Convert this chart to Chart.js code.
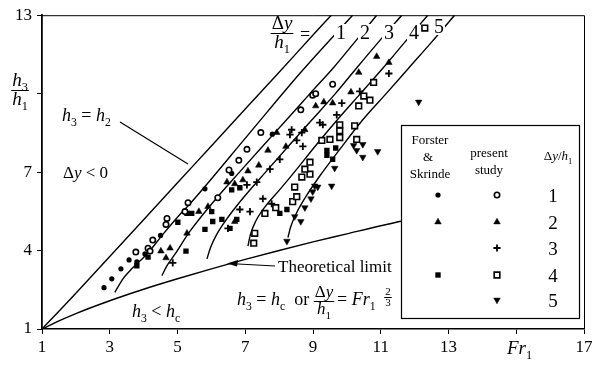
<!DOCTYPE html>
<html>
<head>
<meta charset="utf-8">
<script src="https://cdn.jsdelivr.net/npm/chart.js@4.4.1/dist/chart.umd.min.js"></script>
<style>
  html, body { margin: 0; padding: 0; background: #fff; }
</style>
</head>
<body>
<canvas id="c" width="604" height="365"></canvas>
<script>
// Forster & Skrinde data  [Fr1, h3/h1]
const fsDy1 = [[2.83,2.58],[3.06,2.92],[3.33,3.30],[3.57,3.64],[3.80,3.57],[4.04,3.87],[4.50,4.58],[5.81,6.36],[6.60,6.95],[7.80,8.45]];
const fsDy2 = [[4.51,3.98],[4.66,3.72],[4.78,4.09],[5.28,4.66],[5.63,5.49],[5.90,5.68],[6.46,6.62],[6.69,6.55],[6.93,6.70],[6.69,5.11]];
const fsDy4 = [[3.80,3.42],[4.13,3.75],[5.01,5.08],[5.28,5.42],[5.42,5.42],[5.25,3.98],[5.81,4.81],[6.04,5.11],[6.01,5.49],[6.31,5.19],
               [6.55,4.85],[6.75,5.19],[6.60,6.32],[6.84,6.40],[8.02,5.42],[8.23,5.57],[9.41,7.83],[9.41,7.64],[9.67,7.92],[9.58,7.49]];

// present study
const psDy1 = [[3.77,3.94],[4.13,4.09],[4.19,3.98],[4.27,4.40],[4.66,5.00],[4.69,5.23],[5.22,5.49],[5.31,5.83],[6.19,6.02],[6.52,7.08],
               [6.81,7.45],[7.05,7.87],[7.46,8.51],[8.64,9.38],[8.99,9.94],[9.08,10.0],[9.58,10.36]];
const psDy2 = [[7.08,7.04],[7.40,7.26],[7.67,7.83],[7.93,8.51],[8.20,7.98],[8.76,8.62],[9.08,9.53],[9.32,9.68],[9.58,9.64],[10.12,10.06],
               [10.35,10.81],[10.88,11.42],[11.24,11.19]];
const psDy3 = [[4.86,3.53],[6.49,4.85],[6.84,5.57],[7.14,5.49],[7.52,5.98],[7.78,5.79],[7.05,6.51],[7.34,6.62],[7.73,7.11],[8.02,7.49],
               [8.32,8.43],[8.37,8.62],[8.52,8.21],[8.70,7.98],[8.67,8.51],[9.29,8.81],[9.20,8.89],[9.70,9.19],[9.85,9.64],[10.38,10.09],[11.24,10.77]];
const psDy4 = [[7.25,4.28],[7.28,4.66],[7.58,5.42],[7.90,5.64],[8.40,5.87],[8.52,6.06],[8.46,6.43],[8.67,6.81],[8.91,6.92],[8.76,7.11],
               [8.91,7.38],[9.26,8.21],[9.50,8.25],[9.79,8.32],[9.79,8.58],[9.79,8.81],[10.23,8.77],[10.29,8.25],[10.35,9.53],[10.68,9.75],
               [10.50,9.91],[10.79,10.43],[12.30,12.51]];
const psDy5 = [[8.23,4.36],[8.46,5.30],[8.64,5.11],[8.76,5.64],[8.94,5.98],[8.99,6.25],[9.05,6.47],[9.14,6.43],[9.55,6.47],[9.64,7.15],
               [10.20,8.02],[10.29,7.83],[10.47,8.06],[10.47,7.57],[10.91,7.79],[12.12,9.68]];

// lines
const lineH2 = [[1,1],[1.5,1.68],[2,2.37],[3,3.77],[4,5.18],[5,6.59],[6,8],[7,9.41],[8,10.82],[9,12.24],[9.54,13]];
const lineLimit = [[1,1],[1.5,1.31],[2,1.59],[3,2.08],[4,2.52],[5,2.92],[6,3.30],[7,3.66],[8,4.0],[9,4.33],[10,4.64],[11,4.95],[11.6,5.12]];
const curveDy1 = [[3.15,2.40],[3.39,2.92],[3.65,3.30],[4.10,3.87],[4.57,4.62],[5.07,5.38],[5.37,5.79],[7.14,8.51],[8.61,10.77],[10.17,13]];
const curveDy2 = [[4.54,3.04],[4.69,3.42],[4.92,3.85],[5.37,4.74],[6.15,6],[6.83,7],[7.52,8],[8.22,9],[8.91,10],[9.61,11],[10.25,12],[10.88,13]];
const curveDy3 = [[5.87,3.68],[5.97,4.1],[6.15,4.6],[6.45,5.2],[6.93,6],[7.6,7],[8.28,8],[8.97,9],[9.66,10],[10.3,11],[10.95,12],[11.62,13]];
const curveDy4 = [[7.08,4.17],[7.15,4.6],[7.3,5.1],[7.6,5.7],[8.0,6.3],[8.45,7],[9.07,8],[9.72,9],[10.4,10],[11.08,11],[11.73,12],[12.39,13]];
const curveDy5 = [[8.26,4.5],[8.34,4.9],[8.5,5.4],[8.76,6.0],[9.2,6.85],[9.75,7.8],[10.47,9],[11.16,10],[11.84,11],[12.52,12],[13.18,13]];

const xTicks = [1, 3, 5, 7, 9, 11, 13, 15, 17];
const yTicks = [1, 4, 7, 10, 13];

const serif = "'Liberation Serif', 'DejaVu Serif', serif";
const pts = arr => arr.map(([x, y]) => ({x, y}));

const marker = {
  fsDot:  {pointStyle: 'circle', radius: 2.6, bg: '#000', bw: 0},
  psDot:  {pointStyle: 'circle', radius: 2.7, bg: '#fff', bw: 1.6},
  tri:    {pointStyle: 'triangle', radius: 3.8, bg: '#000', bw: 0.5},
  plus:   {pointStyle: 'cross', radius: 3.6, bg: '#000', bw: 1.8},
  fsSq:   {pointStyle: 'rect', radius: 3.8, bg: '#000', bw: 0},
  psSq:   {pointStyle: 'rect', radius: 4.0, bg: '#fff', bw: 1.6},
  down:   {pointStyle: 'triangle', radius: 3.8, bg: '#000', bw: 0.5, rotation: 180}
};

function scatterSet(data, m) {
  return {
    type: 'scatter', data: pts(data), showLine: false,
    pointStyle: m.pointStyle, pointRadius: m.radius, pointRotation: m.rotation || 0,
    pointBackgroundColor: m.bg, pointBorderColor: '#000', pointBorderWidth: m.bw, pointHoverRadius: m.radius
  };
}
function lineSet(data) {
  return {
    type: 'line', data: pts(data), borderColor: '#000', borderWidth: 1.4,
    pointRadius: 0, cubicInterpolationMode: 'monotone', fill: false
  };
}

function fontOf(st, size) { return (st === 'i' ? 'italic ' : '') + size + 'px ' + serif; }
function richSegs(ctx, parts, size) {
  return parts.map(([t, s]) => {
    const small = s === 'sub' || s === 'sup';
    const sz = small ? size * 0.65 : size;
    const st = s === 'i' ? 'i' : 'n';
    ctx.font = fontOf(st, sz);
    return {t, sz, st, dy: s === 'sub' ? size * 0.28 : (s === 'sup' ? -size * 0.4 : 0), w: ctx.measureText(t).width};
  });
}
function richWidth(ctx, parts, size) { return richSegs(ctx, parts, size).reduce((a, b) => a + b.w, 0); }
function rich(ctx, x, y, parts, size, align) {
  const segs = richSegs(ctx, parts, size);
  const total = segs.reduce((a, b) => a + b.w, 0);
  let cx = align === 'center' ? x - total / 2 : (align === 'right' ? x - total : x);
  ctx.textAlign = 'left';
  ctx.textBaseline = 'alphabetic';
  for (const s of segs) {
    ctx.font = fontOf(s.st, s.sz);
    ctx.fillText(s.t, cx, y + s.dy);
    cx += s.w;
  }
  return total;
}
function frac(ctx, cx, yBar, num, den, size) {
  const w = Math.max(richWidth(ctx, num, size), richWidth(ctx, den, size));
  rich(ctx, cx, yBar - size * 0.22, num, size, 'center');
  rich(ctx, cx, yBar + size * 0.78, den, size, 'center');
  ctx.beginPath();
  ctx.lineWidth = 1;
  ctx.moveTo(cx - w / 2 - 1, yBar + 0.5);
  ctx.lineTo(cx + w / 2 + 1, yBar + 0.5);
  ctx.stroke();
}

const H = (n) => [['h', 'i'], [n, 'sub']];
const DY = [['\u0394', 'n'], ['y', 'i']];

const decor = {
  id: 'decor',
  afterDatasetsDraw(chart) {
    const ctx = chart.ctx;
    const a = chart.chartArea;
    ctx.save();
    ctx.fillStyle = '#000';
    ctx.strokeStyle = '#000';

    // frame top/right
    ctx.lineWidth = 1;
    ctx.beginPath();
    ctx.moveTo(a.left, a.top + 0.5); ctx.lineTo(a.right + 0.5, a.top + 0.5); ctx.lineTo(a.right + 0.5, a.bottom);
    ctx.stroke();

    // axis titles
    frac(ctx, 20, 90, H('3'), H('1'), 19);
    rich(ctx, 507, 354, [['Fr', 'i'], ['1', 'sub']], 19, 'left');

    // region labels
    rich(ctx, 62, 121, [['h', 'i'], ['3', 'sub'], [' = ', 'n'], ['h', 'i'], ['2', 'sub']], 18);
    rich(ctx, 63, 178, [['\u0394', 'n'], ['y', 'i'], [' < 0', 'n']], 17);
    rich(ctx, 132, 317, [['h', 'i'], ['3', 'sub'], [' < ', 'n'], ['h', 'i'], ['c', 'sub']], 18);

    // leader to h3 = h2
    ctx.lineWidth = 1.2;
    ctx.beginPath(); ctx.moveTo(120, 122); ctx.lineTo(188, 164); ctx.stroke();

    // theoretical limit label + arrow
    rich(ctx, 278, 272, [['Theoretical limit', 'n']], 17);
    ctx.beginPath(); ctx.moveTo(275, 266); ctx.lineTo(229, 263.5); ctx.stroke();
    ctx.beginPath(); ctx.moveTo(227, 263.5); ctx.lineTo(238, 260); ctx.lineTo(237, 266.5); ctx.closePath(); ctx.fill();

    rich(ctx, 237, 305, [['h', 'i'], ['3', 'sub'], [' = ', 'n'], ['h', 'i'], ['c', 'sub'], ['  or', 'n']], 18);
    frac(ctx, 324, 301, DY, H('1'), 17);
    rich(ctx, 337, 305, [['= ', 'n'], ['Fr', 'i'], ['1', 'sub']], 18);
    frac(ctx, 388, 297, [['2', 'n']], [['3', 'n']], 11);

    // top labels
    frac(ctx, 282, 33, DY, H('1'), 19);
    ctx.font = '18px ' + serif;
    ctx.textAlign = 'left'; ctx.textBaseline = 'alphabetic';
    ctx.fillText('=', 300, 40);
    const tops = [['1', 336, 39], ['2', 360, 39], ['3', 384, 39], ['4', 409, 39], ['5', 434, 33]];
    ctx.font = '20px ' + serif;
    for (const [t, x, y] of tops) {
      ctx.fillStyle = '#fff';
      ctx.fillRect(x - 2, y - 15, 13, 17);
      ctx.fillStyle = '#000';
      ctx.fillText(t, x, y);
    }

    // legend box
    ctx.fillStyle = '#fff';
    ctx.fillRect(401, 125, 178, 193);
    ctx.strokeStyle = '#000';
    ctx.lineWidth = 1.2;
    ctx.strokeRect(401.5, 125.5, 178, 193);
    ctx.fillStyle = '#000';
    rich(ctx, 430, 144, [['Forster', 'n']], 13, 'center');
    rich(ctx, 428, 161, [['&', 'n']], 13, 'center');
    rich(ctx, 430, 178, [['Skrinde', 'n']], 13, 'center');
    rich(ctx, 489, 157, [['present', 'n']], 13, 'center');
    rich(ctx, 489, 174, [['study', 'n']], 13, 'center');
    rich(ctx, 558, 160, [['\u0394', 'n'], ['y', 'i'], ['/', 'n'], ['h', 'i'], ['1', 'sub']], 13, 'center');

    const rows = [
      ['1', 195, marker.fsDot, marker.psDot],
      ['2', 222, marker.tri, marker.tri],
      ['3', 248, null, marker.plus],
      ['4', 275, marker.fsSq, marker.psSq],
      ['5', 300, null, marker.down]
    ];
    for (const [lab, y, mf, mp] of rows) {
      for (const [m, x] of [[mf, 438], [mp, 497]]) {
        if (!m) continue;
        ctx.fillStyle = m.bg;
        ctx.strokeStyle = '#000';
        ctx.lineWidth = m.bw;
        Chart.helpers.drawPoint(ctx, {pointStyle: m.pointStyle, radius: m.radius, rotation: m.rotation || 0, borderWidth: m.bw}, x, y);
      }
      ctx.fillStyle = '#000';
      rich(ctx, 553, y + 7, [[lab, 'n']], 19, 'center');
    }
    ctx.restore();
  }
};

new Chart(document.getElementById('c'), {
  data: {
    datasets: [
      scatterSet(psDy1, marker.psDot),
      scatterSet(psDy4, marker.psSq),
      scatterSet(fsDy1, marker.fsDot),
      scatterSet(fsDy2, marker.tri),
      scatterSet(psDy2, marker.tri),
      scatterSet(psDy3, marker.plus),
      scatterSet(fsDy4, marker.fsSq),
      scatterSet(psDy5, marker.down),
      lineSet(lineH2),
      lineSet(lineLimit),
      lineSet(curveDy1),
      lineSet(curveDy2),
      lineSet(curveDy3),
      lineSet(curveDy4),
      lineSet(curveDy5)
    ]
  },
  options: {
    responsive: false,
    animation: false,
    layout: { padding: { top: 11, right: 20, left: 0, bottom: 0 } },
    plugins: { legend: { display: false }, tooltip: { enabled: false } },
    scales: {
      x: {
        type: 'linear', min: 1, max: 17,
        afterFit: s => { s.height = 36; },
        afterBuildTicks: s => { s.ticks = xTicks.map(v => ({value: v})); },
        ticks: { callback: v => (v === 15 ? '' : v), color: '#000', padding: 3, maxRotation: 0,
                 font: { family: serif, size: 17 } },
        grid: { drawOnChartArea: false, drawTicks: true, tickLength: 5, color: '#000', lineWidth: 1 },
        border: { display: true, color: '#000', width: 1.6 }
      },
      y: {
        type: 'linear', min: 1, max: 13,
        afterFit: s => { s.width = 42; },
        afterBuildTicks: s => { s.ticks = yTicks.map(v => ({value: v})); },
        ticks: { callback: v => (v === 10 ? '' : v), color: '#000', padding: 5,
                 font: { family: serif, size: 17 } },
        grid: { drawOnChartArea: false, drawTicks: true, tickLength: 5, color: '#000', lineWidth: 1 },
        border: { display: true, color: '#000', width: 1.8 }
      }
    }
  },
  plugins: [decor]
});
</script>
</body>
</html>
